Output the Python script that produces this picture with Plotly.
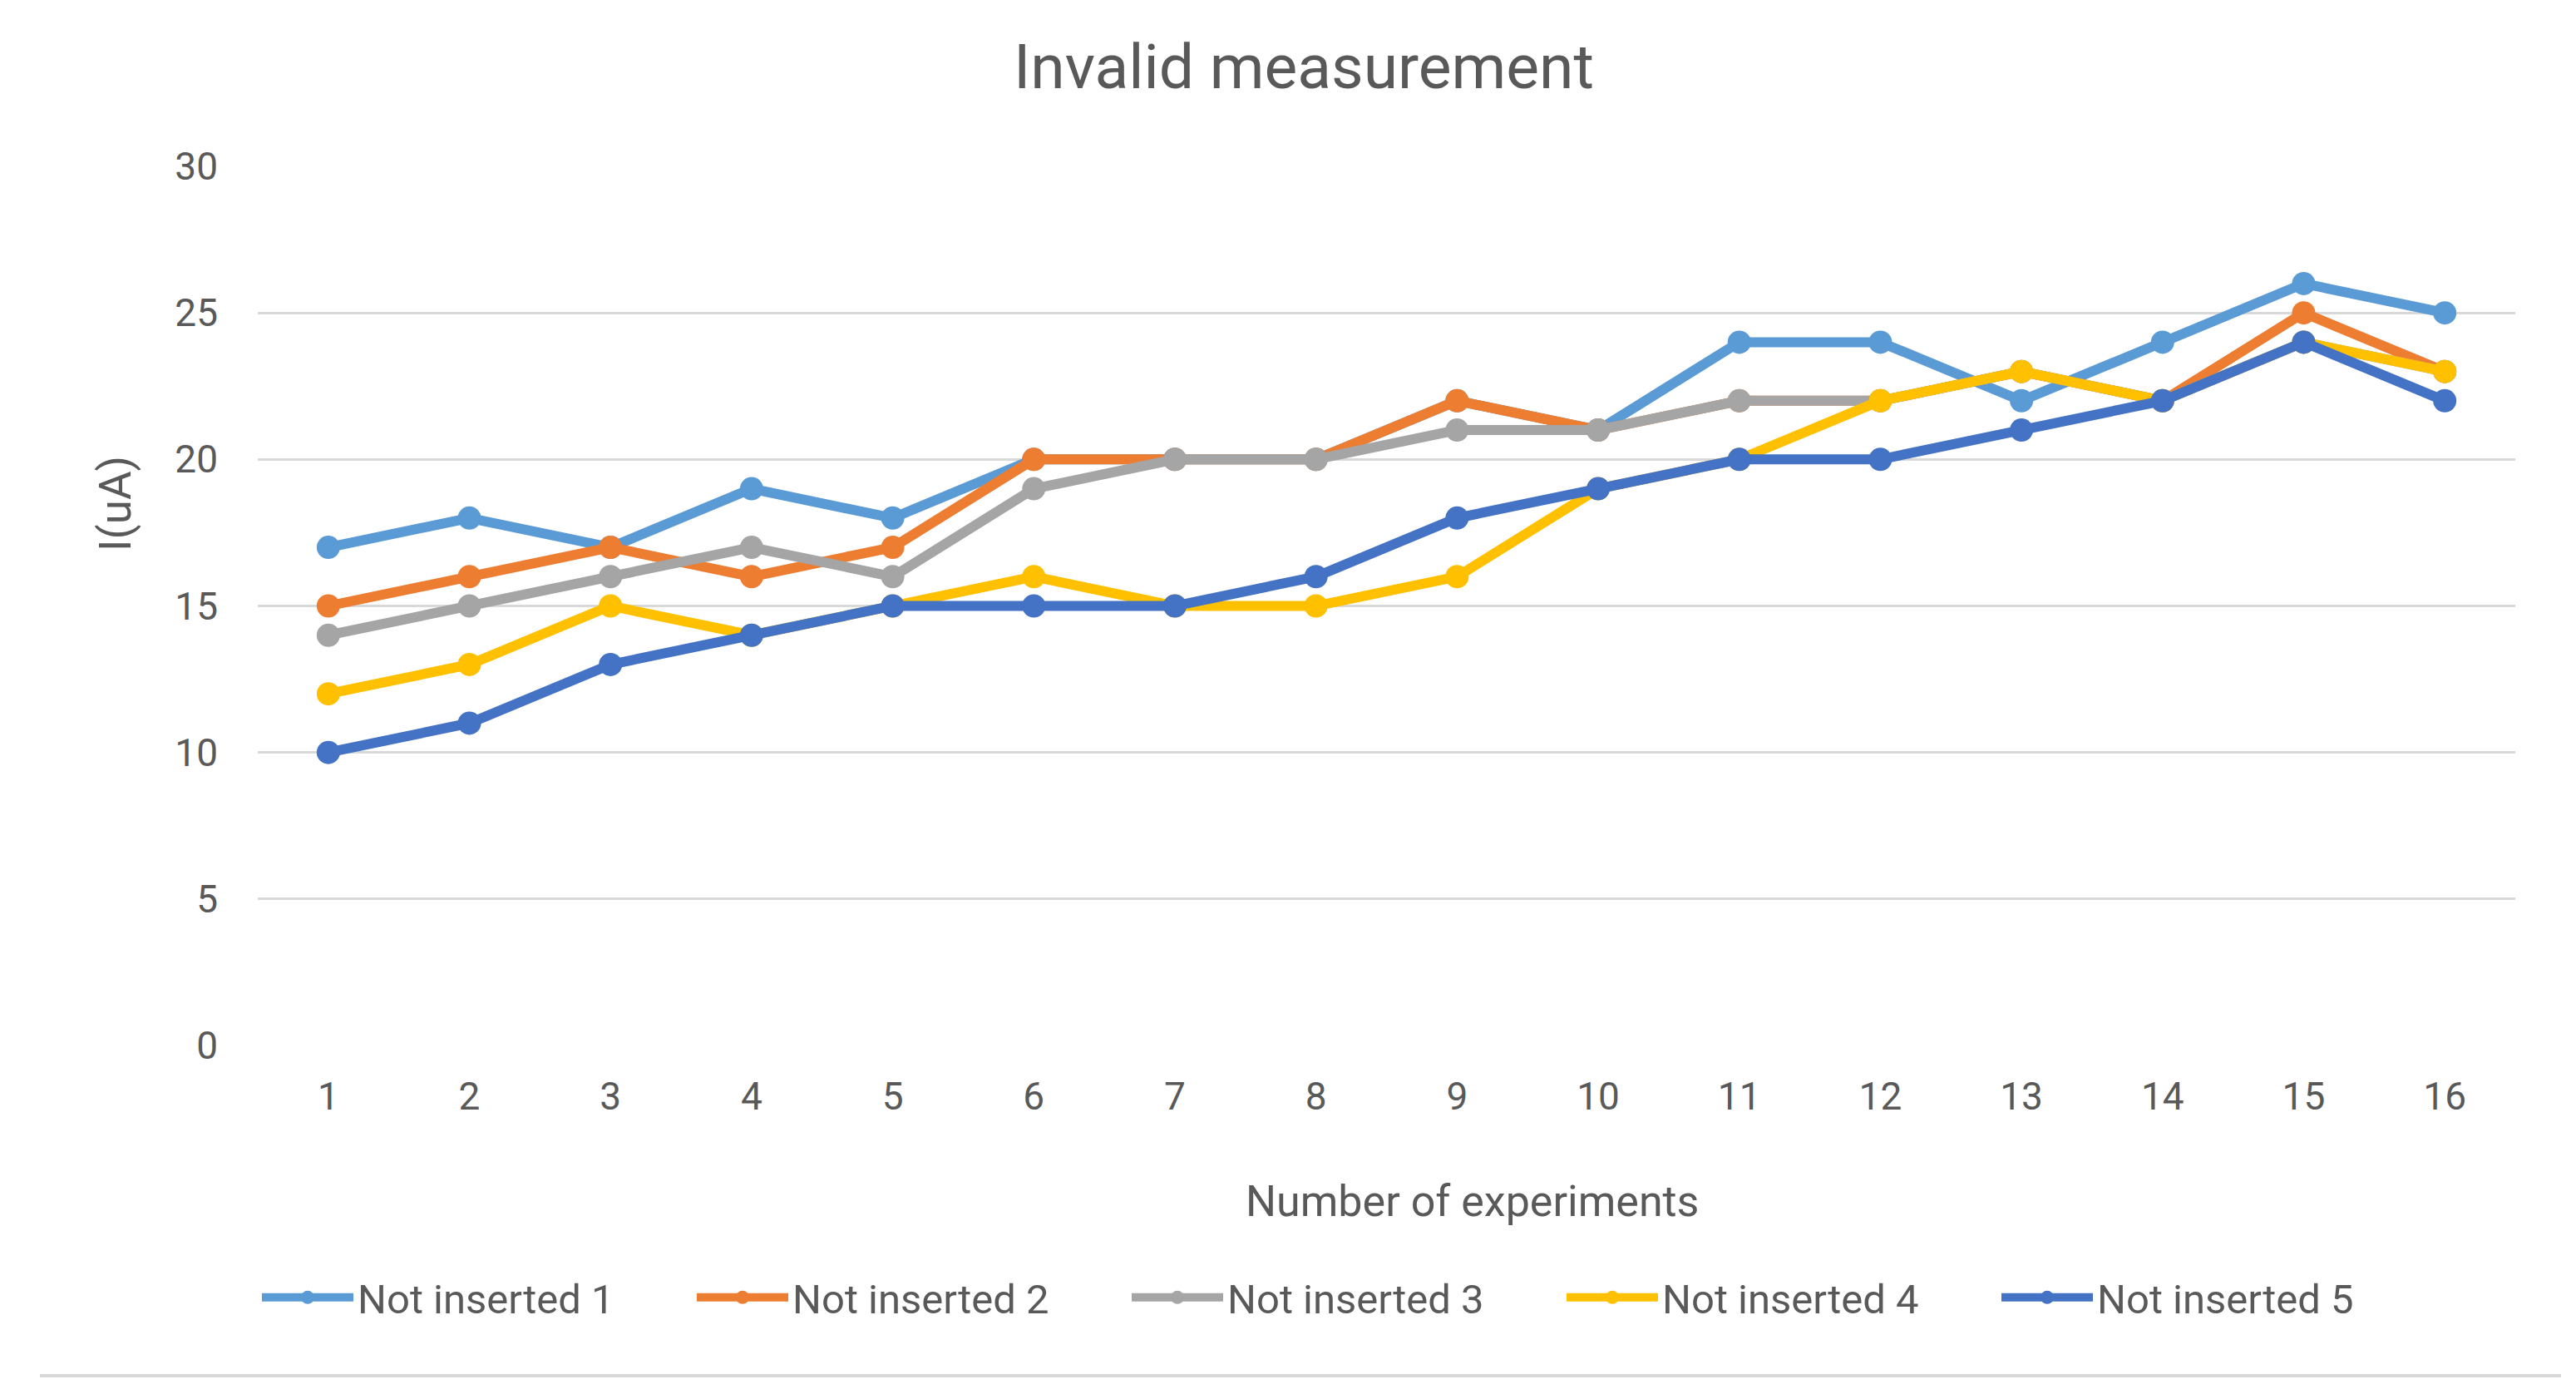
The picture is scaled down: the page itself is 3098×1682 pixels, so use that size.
import plotly.graph_objects as go

experiments = list(range(1, 17))
series_names = ["Not inserted 1", "Not inserted 2", "Not inserted 3", "Not inserted 4", "Not inserted 5"]
not_inserted_1 = [17, 18, 17, 19, 18, 20, 20, 20, 22, 21, 24, 24, 22, 24, 26, 25]
not_inserted_2 = [15, 16, 17, 16, 17, 20, 20, 20, 22, 21, 22, 22, 23, 22, 25, 23]
not_inserted_3 = [14, 15, 16, 17, 16, 19, 20, 20, 21, 21, 22, 22, 23, 22, 24, 23]
not_inserted_4 = [12, 13, 15, 14, 15, 16, 15, 15, 16, 19, 20, 22, 23, 22, 24, 23]
not_inserted_5 = [10, 11, 13, 14, 15, 15, 15, 16, 18, 19, 20, 20, 21, 22, 24, 22]
y_ticks = [0, 5, 10, 15, 20, 25, 30]

colors = ["#5B9BD5", "#ED7D31", "#A5A5A5", "#FFC000", "#4472C4"]
all_series = [not_inserted_1, not_inserted_2, not_inserted_3, not_inserted_4, not_inserted_5]

FONT = "Roboto, sans-serif"
TXT = "#595959"

fig = go.Figure()
for name, vals, c in zip(series_names, all_series, colors):
    fig.add_trace(go.Scatter(
        x=experiments, y=vals, name=name, mode="lines+markers",
        line=dict(color=c, width=12),
        marker=dict(color=c, size=28, symbol="circle"),
    ))

W, H = 3098, 1682
L, R, T, B = 302, 81, 192, 433
pw, ph = W - L - R, H - T - B
bottom = H - B

fig.update_layout(
    width=W, height=H,
    margin=dict(l=L, r=R, t=T, b=B),
    paper_bgcolor="white", plot_bgcolor="white",
    font=dict(family=FONT, color=TXT, size=46),
    title=dict(text="Invalid measurement", x=1560 / W, xanchor="center",
               y=1 - 72 / H, yanchor="middle", font=dict(size=75, color=TXT, family=FONT)),
    showlegend=True,
    legend=dict(orientation="h", x=0, xanchor="left", y=-(1552 - bottom) / ph, yanchor="middle",
                font=dict(size=49, color=TXT, family=FONT), entrywidth=398, entrywidthmode="pixels",
                itemwidth=110, bgcolor="rgba(0,0,0,0)"),
    xaxis=dict(range=[0.5, 16.5], tickmode="array", tickvals=experiments,
               ticktext=[str(v) for v in experiments], showgrid=False, zeroline=False,
               showline=False, ticks="", ticklabelstandoff=30,
               tickfont=dict(size=46, color=TXT, family=FONT)),
    yaxis=dict(range=[0, 30], tickmode="array", tickvals=y_ticks, showgrid=True,
               gridcolor="#D9D9D9", gridwidth=3, zeroline=False, showline=False, ticks="",
               ticklabelstandoff=47, tickfont=dict(size=46, color=TXT, family=FONT)),
    annotations=[
        dict(text="Number of experiments", xref="paper", yref="paper",
             x=0.538, y=-(1436 - bottom) / ph, xanchor="center", yanchor="middle",
             showarrow=False, font=dict(size=52, color=TXT, family=FONT)),
        dict(text="I(uA)", xref="paper", yref="paper",
             x=(131 - L) / pw, y=0.616, xanchor="center", yanchor="middle",
             textangle=-90, showarrow=False, font=dict(size=53, color=TXT, family=FONT)),
    ],
    shapes=[
        dict(type="line", xref="paper", yref="paper",
             x0=(40 - L) / pw, x1=(3072 - L) / pw,
             y0=-(1646 - bottom) / ph, y1=-(1646 - bottom) / ph,
             line=dict(color="#D9D9D9", width=4)),
    ],
)

fig.write_html("out.html")
